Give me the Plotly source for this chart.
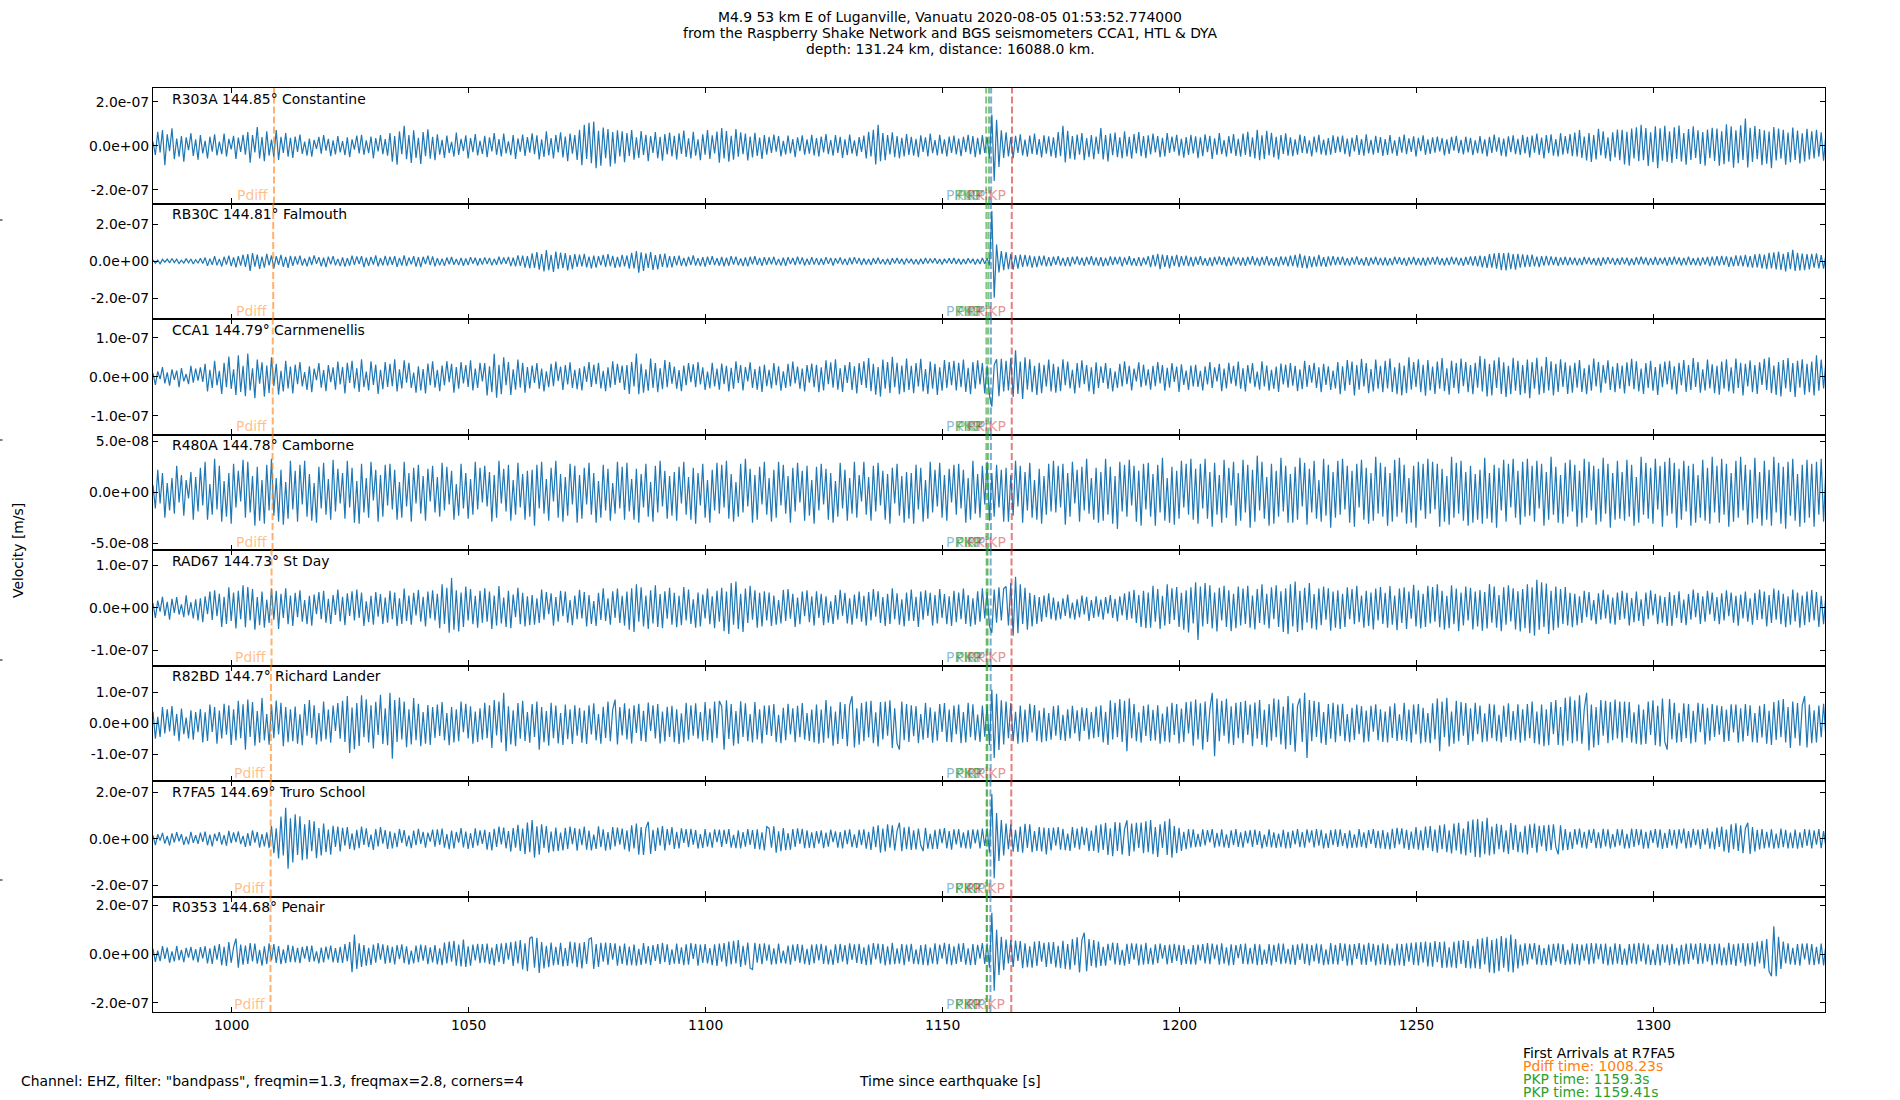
import plotly.graph_objects as go
from plotly.subplots import make_subplots

# decimated traces: one sample every 0.5 s, each row below is 10 s of data
t_start = 983.4
dt = 0.5
row_span = 10.0

stations = ['R303A', 'RB30C', 'CCA1', 'R480A', 'RAD67', 'R82BD', 'R7FA5', 'R0353']
distances = ['144.85', '144.81', '144.79', '144.78', '144.73', '144.7', '144.69', '144.68']
places = ['Constantine', 'Falmouth', 'Carnmenellis', 'Camborne', 'St Day', 'Richard Lander',
          'Truro School', 'Penair']

# arrival times [s] per station
pdiff_times = [1008.93, 1008.76, 1008.67, 1008.63, 1008.41, 1008.28, 1008.23, 1008.19]
pkp1_times = [1159.2, 1159.25, 1159.25, 1159.25, 1159.3, 1159.3, 1159.3, 1159.3]
pkp2_times = [1159.8, 1159.7, 1159.65, 1159.6, 1159.5, 1159.45, 1159.41, 1159.38]
pkikp_times = [1160.25, 1160.2, 1160.2, 1160.2, 1160.15, 1160.15, 1160.1, 1160.1]
pkikp2_times = [1164.65, 1164.6, 1164.6, 1164.6, 1164.55, 1164.55, 1164.5, 1164.5]

# y axis limits and tick labels per panel
y_limits = [2.62e-7, 3.11e-7, 1.485e-7, 5.68e-8, 1.36e-7, 1.86e-7, 2.48e-7, 2.37e-7]
ytick_step = [2e-7, 2e-7, 1e-7, 5e-8, 1e-7, 1e-7, 2e-7, 2e-7]
ytick_text = [
    ['-2.0e-07', '0.0e+00', '2.0e-07'],
    ['-2.0e-07', '0.0e+00', '2.0e-07'],
    ['-1.0e-07', '0.0e+00', '1.0e-07'],
    ['-5.0e-08', '0.0e+00', '5.0e-08'],
    ['-1.0e-07', '0.0e+00', '1.0e-07'],
    ['-1.0e-07', '0.0e+00', '1.0e-07'],
    ['-2.0e-07', '0.0e+00', '2.0e-07'],
    ['-2.0e-07', '0.0e+00', '2.0e-07'],
]

# velocity in nm/s
r303a = [
    [18,-42,63,-30,71,-88,52,-25,79,-61,33,-50,44,-72,38,-20,57,-46,29,-63],
    [48,-35,22,-58,41,-27,52,-44,19,-38,55,-49,31,-16,45,-60,37,-28,50,-41],
    [62,-77,48,-30,85,-58,39,-70,66,-45,28,-52,71,-64,40,-33,58,-49,36,-55],
    [42,-28,51,-37,19,-45,33,-50,27,-14,40,-36,48,-22,31,-47,25,-39,44,-30],
    [21,-43,38,-52,29,-18,46,-35,50,-41,24,-33,42,-57,35,-26,48,-38,30,-45],
    [58,-72,44,-86,65,-38,90,-61,49,-78,70,-55,36,-83,62,-47,75,-59,41,-66],
    [52,-40,27,-55,46,-33,18,-49,60,-42,31,-24,47,-58,35,-29,53,-44,22,-37],
    [45,-52,38,-26,57,-41,30,-48,55,-35,20,-43,49,-60,33,-27,51,-46,39,-31],
    [56,-38,47,-62,29,-51,66,-44,35,-58,49,-30,61,-53,42,-70,55,-36,48,-64],
    [72,-88,95,-60,104,-79,110,-102,68,-91,83,-57,76,-94,62,-81,70,-49,66,-75],
    [58,-46,71,-63,38,-55,67,-42,50,-70,44,-33,62,-57,41,-68,53,-39,60,-48],
    [45,-62,56,-37,69,-51,34,-58,63,-45,29,-66,52,-40,71,-60,47,-35,64,-77],
    [80,-58,67,-72,45,-63,76,-50,61,-38,55,-67,42,-53,59,-46,37,-60,48,-41],
    [40,-33,51,-27,44,-48,22,-39,46,-35,30,-52,38,-24,47,-41,29,-36,50,-44],
    [35,-49,42,-30,53,-38,26,-45,48,-32,40,-55,29,-43,51,-36,24,-47,39,-28],
    [46,-58,63,-49,72,-85,95,-70,58,-66,48,-39,61,-52,44,-57,36,-48,53,-42],
    [40,-45,31,-52,47,-28,38,-49,55,-34,26,-44,50,-37,29,-48,42,-33,46,-39],
    [32,-47,41,-29,50,-38,44,-52,36,-41,48,-33,39,-58,142,-160,118,-96,70,-55],
    [61,-48,39,-57,45,-33,52,-44,28,-50,46,-37,55,-41,30,-53,47,-36,43,-49],
    [38,-55,62,-47,90,-76,68,-59,44,-63,51,-40,58,-66,35,-52,48,-61,42,-37],
    [80,-62,49,-71,55,-43,60,-52,38,-57,66,-48,41,-59,53,-35,62,-47,44,-56],
    [47,-39,55,-30,44,-52,36,-48,58,-33,41,-27,50,-45,32,-54,39,-42,49,-35],
    [43,-56,38,-47,52,-29,45,-60,34,-41,57,-38,26,-50,44,-35,53,-46,31,-49],
    [55,-42,63,-51,38,-58,72,-65,47,-60,68,-44,59,-53,40,-62,49,-37,56,-45],
    [38,-47,29,-40,51,-33,44,-36,25,-48,42,-30,50,-39,28,-44,35,-41,47,-32],
    [41,-29,46,-38,33,-50,37,-26,48,-42,30,-45,52,-35,27,-40,45,-33,39,-46],
    [30,-42,48,-35,25,-46,40,-31,51,-38,34,-28,43,-49,36,-24,47,-41,29,-37],
    [38,-31,42,-26,35,-44,29,-37,40,-22,45,-33,27,-39,41,-30,36,-43,25,-34],
    [44,-36,29,-48,40,-33,51,-27,38,-45,32,-50,43,-29,47,-38,31,-42,49,-35],
    [40,-53,46,-31,55,-42,37,-58,48,-34,52,-45,30,-49,57,-40,44,-36,53,-47],
    [60,-48,71,-55,42,-67,58,-73,49,-62,77,-44,65,-58,38,-70,61,-53,74,-66],
    [72,-85,63,-90,78,-58,84,-70,95,-66,80,-92,61,-75,88,-102,79,-68,90,-73],
    [65,-78,84,-60,92,-71,58,-86,76,-64,88,-55,70,-83,62,-91,74,-57,81,-69],
    [78,-90,66,-84,97,-72,88,-100,70,-79,93,-65,123,-98,82,-74,89,-61,76,-88],
    [70,-82,64,-102,85,-67,78,-59,72,-86,60,-75,83,-64,69,-80,57,-71,77,-62],
    [66,-58,72,-50,61,-68,55],
]
rb30c = [
    [8,-11,6,-14,10,-5,12,-9,15,-7,11,-13,6,-10,14,-8,12,-15,9,-11],
    [16,-12,20,-25,14,-19,27,-22,13,-28,24,-18,30,-26,21,-33,28,-24,35,-30],
    [38,-52,44,-29,36,-41,25,-35,40,-22,31,-38,27,-19,34,-30,23,-36,29,-25],
    [26,-18,30,-23,15,-28,24,-20,32,-14,22,-27,19,-31,25,-17,28,-22,13,-26],
    [21,-29,17,-24,30,-20,26,-15,28,-32,19,-25,23,-18,31,-27,16,-22,29,-24],
    [25,-19,28,-30,18,-23,32,-26,20,-17,27,-29,22,-31,24,-15,30,-21,26,-28],
    [17,-22,14,-25,20,-16,23,-19,12,-21,18,-24,15,-20,22,-13,19,-23,16,-18],
    [21,-15,18,-22,13,-19,24,-17,20,-14,23,-26,19,-28,32,-25,30,-35,28,-38],
    [42,-36,50,-45,39,-55,60,-48,35,-58,52,-41,46,-37,44,-50,33,-42,38,-30],
    [36,-28,40,-33,25,-38,30,-35,27,-22,34,-31,38,-26,29,-36,24,-32,35,-27],
    [31,-40,45,-38,55,-61,48,-52,42,-36,50,-47,33,-44,39,-30,41,-35,28,-33],
    [27,-22,30,-25,18,-28,24,-20,31,-23,17,-26,22,-29,25,-19,28,-21,16,-24],
    [23,-27,19,-24,28,-18,25,-22,15,-26,21,-28,24,-17,27,-20,18,-25,22,-19],
    [20,-16,24,-21,13,-23,19,-25,22,-15,18,-20,24,-17,21,-23,14,-19,22,-18],
    [17,-21,15,-19,22,-14,18,-23,16,-12,20,-18,14,-21,19,-16,22,-13,17,-20],
    [15,-18,12,-20,16,-13,19,-15,11,-17,14,-19,16,-12,18,-14,13,-17,15,-11],
    [14,-16,11,-18,13,-15,17,-12,15,-10,16,-14,12,-17,14,-11,16,-13,18,-15],
    [13,-17,12,-15,16,-11,14,-18,12,-15,17,-13,16,-22,270,-196,90,-60,55,-48],
    [50,-42,38,-45,33,-40,36,-30,34,-28,31,-35,26,-32,29,-24,30,-27,22,-26],
    [25,-20,27,-23,18,-26,22,-28,24,-17,26,-21,19,-25,23,-18,27,-22,20,-24],
    [22,-27,18,-24,26,-20,23,-16,25,-28,21,-19,27,-23,17,-25,22,-26,20,-18],
    [28,-32,35,-27,40,-42,36,-30,33,-38,29,-25,34,-31,27,-24,30,-26,23,-28],
    [24,-19,27,-22,16,-25,21,-26,23,-18,26,-20,22,-27,19,-24,25,-17,21,-23],
    [20,-25,23,-18,27,-22,19,-26,24,-21,28,-23,17,-25,22,-27,26,-20,24,-28],
    [30,-26,35,-33,40,-36,31,-38,28,-32,25,-29,34,-27,22,-30,26,-24,28,-21],
    [23,-19,25,-22,17,-24,21,-18,26,-20,15,-23,22,-25,19,-16,24,-21,18,-22],
    [20,-23,17,-21,24,-15,22,-19,18,-25,21,-17,23,-20,16,-22,19,-24,21,-18],
    [22,-18,25,-20,16,-23,19,-21,24,-17,20,-22,18,-25,23,-19,26,-24,28,-27],
    [30,-33,28,-36,38,-34,42,-40,45,-48,44,-50,46,-42,38,-45,40,-35,37,-32],
    [34,-30,36,-28,25,-32,27,-24,29,-22,26,-20,23,-25,21,-19,24,-22,20,-18],
    [19,-22,17,-20,23,-15,21,-18,16,-22,19,-24,20,-17,22,-14,18,-21,16,-19],
    [21,-17,19,-23,15,-20,22,-18,24,-16,20,-22,17,-19,23,-21,18,-15,20,-24],
    [22,-19,24,-17,20,-23,18,-21,25,-20,16,-22,19,-24,21,-18,23,-26,25,-22],
    [27,-24,29,-21,26,-30,23,-28,32,-25,30,-27,34,-31,28,-35,37,-33,40,-38],
    [36,-42,45,-39,48,-44,52,-47,40,-55,50,-43,61,-52,46,-50,41,-48,38,-44],
    [40,-35,42,-38,33,-40,36],
]
cca1 = [
    [9,-21,14,-6,25,-17,11,-23,19,-8,16,-27,22,-12,7,-19,28,-15,21,-10],
    [24,-13,33,-38,18,-29,41,-22,15,-44,36,-27,52,-31,19,-47,55,-39,28,-50],
    [60,-35,22,-55,44,-18,37,-51,29,-42,50,-24,33,-46,15,-38,41,-30,26,-43],
    [31,-19,38,-25,12,-34,27,-40,21,-9,35,-28,17,-37,30,-14,24,-33,39,-20],
    [25,-43,36,-16,41,-30,22,-39,45,-27,13,-35,40,-21,31,-44,18,-32,38,-26],
    [33,-24,45,-38,19,-30,42,-15,36,-29,11,-41,27,-35,20,-43,34,-22,40,-28],
    [18,-37,29,-22,40,-14,33,-41,25,-31,38,-17,30,-26,42,-35,21,-29,36,-12],
    [35,-48,27,-40,59,-54,31,-45,50,-22,38,-47,19,-33,44,-28,36,-41,25,-30],
    [29,-16,35,-31,21,-38,14,-27,33,-24,39,-11,26,-34,30,-20,37,-29,18,-32],
    [22,-35,27,-13,38,-26,31,-19,36,-30,15,-37,24,-28,40,-21,33,-16,29,-34],
    [30,-44,38,-25,60,-45,33,-41,19,-36,47,-29,35,-40,22,-32,43,-27,38,-18],
    [26,-31,17,-37,29,-22,35,-14,32,-27,38,-20,24,-34,13,-30,36,-25,21,-33],
    [34,-19,28,-38,23,-31,40,-16,30,-35,25,-12,37,-29,20,-33,27,-39,31,-24],
    [18,-30,35,-22,27,-36,14,-29,33,-25,39,-17,26,-31,21,-38,30,-15,34,-27],
    [31,-40,24,-35,42,-19,37,-28,45,-33,22,-39,30,-16,38,-34,27,-43,35,-21],
    [40,-29,48,-37,33,-46,25,-51,44,-31,38,-42,51,-27,36,-45,29,-40,47,-34],
    [28,-42,35,-25,46,-38,20,-44,39,-31,33,-47,24,-36,43,-29,38,-22,41,-35],
    [36,-27,44,-39,23,-45,38,-31,42,-20,35,-43,29,-48,-77,30,45,-50,46,-38],
    [41,-35,48,-52,68,-44,39,-57,50,-33,45,-40,28,-47,36,-42,31,-25,44,-38],
    [33,-41,26,-37,45,-22,39,-30,18,-43,35,-28,42,-19,30,-38,24,-45,37,-29],
    [27,-16,35,-31,22,-38,14,-29,33,-25,40,-19,28,-35,21,-12,37,-27,31,-23],
    [19,-33,28,-24,38,-17,30,-36,23,-28,35,-13,26,-39,32,-21,16,-34,29,-25],
    [31,-26,15,-35,27,-20,38,-29,24,-12,33,-37,21,-30,36,-18,28,-24,39,-31],
    [22,-38,30,-17,35,-27,13,-33,40,-25,29,-36,18,-31,26,-39,34,-20,31,-28],
    [35,-23,28,-37,19,-32,41,-26,30,-15,36,-29,24,-40,33,-21,27,-34,16,-30],
    [38,-45,27,-36,43,-21,39,-48,30,-33,46,-25,35,-42,20,-38,44,-31,28,-40],
    [41,-30,47,-39,24,-45,36,-48,29,-42,50,-33,38,-26,45,-40,31,-49,43,-35],
    [26,-44,39,-31,48,-37,22,-46,41,-29,35,-43,47,-24,38,-40,30,-45,36,-28],
    [53,-38,46,-51,33,-48,42,-29,50,-44,37,-52,28,-45,49,-36,41,-47,30,-43],
    [44,-55,38,-31,49,-46,27,-42,51,-35,40,-48,33,-39,45,-26,37,-44,29,-41],
    [36,-28,43,-39,22,-45,31,-36,47,-25,38,-41,30,-17,42,-34,26,-40,35,-31],
    [29,-43,37,-24,46,-32,40,-38,21,-44,35,-29,41,-36,25,-47,33,-27,39,-20],
    [41,-33,27,-45,36,-22,43,-39,30,-34,48,-26,38,-41,19,-35,44,-30,32,-42],
    [28,-46,39,-31,45,-38,24,-43,47,-29,36,-48,33,-25,42,-40,30,-44,37,-21],
    [46,-34,50,-42,29,-47,38,-51,43,-30,48,-39,35,-52,41,-28,45,-46,33,-40],
    [39,-48,55,-36,44,-30,42],
]
r480a = [
    [7,-16,22,-11,19,-25,9,-18,14,-21,26,-10,17,-23,12,-6,20,-27,15,-19],
    [24,-13,30,-27,8,-22,33,-17,26,-29,11,-24,19,-31,28,-15,21,-9,32,-25],
    [30,-20,16,-33,25,-28,12,-31,27,-18,33,-23,14,-29,22,-32,10,-26,31,-17],
    [21,-29,27,-12,31,-24,18,-28,9,-30,25,-16,29,-22,13,-27,32,-19,23,-11],
    [19,-26,31,-15,24,-30,11,-31,28,-20,14,-25,30,-8,22,-29,17,-24,27,-13],
    [28,-17,22,-27,10,-25,30,-14,19,-29,24,-11,27,-21,16,-28,23,-9,26,-20],
    [15,-24,29,-18,25,-12,21,-27,8,-23,28,-16,19,-26,13,-22,30,-17,24,-10],
    [26,-14,20,-29,17,-25,31,-11,23,-19,27,-28,12,-22,29,-15,18,-27,21,-24],
    [22,-33,27,-16,30,-21,13,-28,24,-9,31,-25,18,-29,15,-23,28,-12,26,-30],
    [17,-26,24,-12,29,-22,19,-30,11,-25,27,-18,23,-28,9,-21,30,-16,25,-27],
    [29,-19,13,-27,23,-30,18,-15,28,-24,10,-29,26,-20,31,-14,21,-26,16,-23],
    [20,-28,25,-11,30,-22,15,-27,24,-31,19,-13,28,-25,12,-30,22,-18,29,-21],
    [27,-15,31,-26,18,-29,10,-24,28,-20,33,-14,23,-30,17,-27,25,-12,30,-22],
    [14,-29,22,-25,30,-13,27,-21,16,-30,24,-19,29,-10,21,-28,26,-23,12,-31],
    [25,-18,28,-12,23,-27,19,-30,11,-24,29,-16,22,-28,14,-21,30,-25,17,-9],
    [30,-22,15,-28,26,-19,29,-13,21,-27,18,-31,24,-11,28,-23,16,-30,20,-26],
    [19,-31,27,-17,24,-29,12,-26,30,-20,22,-14,29,-25,17,-28,23,-10,27,-22],
    [28,-16,22,-30,14,-27,31,-21,18,-25,26,-12,30,-28,19,-24,27,-15,22,-29],
    [24,-29,17,-23,31,-14,26,-30,20,-18,29,-25,12,-27,23,-31,16,-22,28,-19],
    [31,-20,26,-15,28,-32,19,-24,30,-11,22,-29,25,-18,33,-21,14,-27,24,-30],
    [20,-28,33,-22,25,-31,16,-36,30,-19,27,-24,32,-13,26,-29,21,-33,28,-17],
    [29,-24,18,-33,27,-20,34,-28,14,-30,25,-32,21,-26,31,-15,28,-22,33,-27],
    [23,-31,28,-16,33,-26,20,-34,29,-22,17,-30,32,-25,24,-13,30,-33,19,-28],
    [32,-20,27,-35,22,-29,36,-18,30,-26,15,-33,28,-31,21,-24,34,-19,26,-30],
    [18,-30,25,-27,34,-14,29,-32,23,-20,31,-26,12,-29,33,-23,27,-35,20,-25],
    [31,-22,33,-17,26,-30,21,-34,28,-15,32,-27,24,-31,19,-28,35,-21,29,-24],
    [25,-33,19,-29,32,-24,34,-20,27,-31,14,-30,26,-35,30,-18,28,-26,33,-21],
    [30,-17,28,-34,23,-29,16,-32,35,-25,29,-21,31,-28,20,-33,26,-30,18,-27],
    [22,-31,34,-26,19,-30,27,-35,24,-18,32,-29,28,-15,33,-25,21,-32,30,-24],
    [33,-23,26,-29,31,-16,28,-33,20,-27,35,-22,25,-30,17,-31,29,-24,32,-19],
    [27,-34,21,-30,33,-25,30,-18,26,-32,23,-29,34,-21,28,-35,19,-27,31,-26],
    [20,-28,32,-24,27,-33,15,-30,35,-22,29,-26,24,-31,33,-17,26,-34,30,-23],
    [34,-21,29,-35,23,-27,31,-19,26,-33,28,-30,17,-25,32,-28,24,-31,35,-20],
    [26,-30,33,-22,28,-34,19,-29,31,-25,35,-18,27,-32,22,-30,34,-26,20,-33],
    [31,-27,22,-33,35,-20,29,-31,25,-36,30,-23,33,-28,18,-34,27,-30,32,-25],
    [28,-34,30,-22,33,-29,25],
]
rad67 = [
    [11,-24,17,-9,26,-19,14,-28,21,-12,25,-16,8,-22,29,-18,13,-25,20,-30],
    [22,-34,27,-15,38,-29,41,-20,33,-45,26,-38,48,-31,36,-49,40,-27,53,-46],
    [49,-30,44,-52,25,-41,38,-47,19,-36,45,-28,40,-50,33,-24,46,-39,29,-43],
    [35,-22,41,-33,18,-39,28,-42,31,-15,37,-27,40,-35,21,-38,30,-17,43,-32],
    [26,-41,34,-19,39,-30,43,-24,36,-43,15,-34,28,-40,37,-21,32,-38,24,-35],
    [40,-27,36,-43,22,-38,45,-31,29,-40,35,-18,42,-33,26,-44,38,-25,41,-30],
    [33,-48,55,-38,47,-59,70,-52,41,-56,36,-45,50,-30,44,-39,28,-47,40,-35],
    [46,-33,38,-50,29,-42,51,-37,24,-45,40,-48,31,-22,47,-39,35,-44,27,-41],
    [30,-40,22,-36,43,-28,37,-15,34,-42,25,-33,40,-20,38,-35,18,-41,29,-27],
    [42,-25,37,-44,30,-38,16,-43,35,-29,46,-31,22,-40,39,-24,45,-36,28,-42],
    [38,-52,46,-57,55,-33,48,-44,29,-50,41,-37,53,-45,32,-48,39,-26,47,-40],
    [35,-46,28,-41,49,-30,43,-38,20,-47,36,-44,31,-25,45,-39,27,-48,40,-33],
    [47,-55,38,-62,58,-40,62,-50,33,-57,45,-36,52,-28,41,-47,35,-44,39,-30],
    [36,-43,29,-40,18,-37,42,-31,44,-26,33,-45,24,-39,38,-20,41,-34,27,-42],
    [39,-24,33,-41,27,-35,15,-38,30,-28,42,-19,35,-37,22,-40,31,-26,38,-33],
    [28,-42,37,-30,44,-21,39,-36,25,-43,33,-38,46,-27,34,-40,20,-44,36,-31],
    [43,-31,26,-45,38,-28,41,-19,35,-42,30,-37,44,-24,32,-39,27,-43,40,-34],
    [36,-27,45,-38,30,-44,22,-40,39,-33,46,-25,37,-43,-59,43,-35,48,-30,45],
    [50,-42,58,-66,73,-60,55,-38,47,-52,35,-44,30,-38,25,-33,29,-22,34,-27],
    [24,-30,15,-27,22,-19,31,-25,12,-28,20,-23,29,-16,26,-31,18,-24,27,-21],
    [19,-28,25,-14,30,-24,21,-32,27,-18,34,-29,38,-25,42,-36,30,-45,40,-48],
    [36,-47,52,-33,44,-50,28,-42,55,-38,46,-29,49,-45,35,-52,41,-58,48,-37],
    [60,-76,50,-44,58,-38,53,-49,36,-56,47,-30,52,-45,41,-55,33,-48,50,-42],
    [45,-38,52,-47,29,-51,44,-36,55,-40,33,-49,48,-27,53,-45,39,-57,46,-62],
    [55,-44,62,-57,40,-53,47,-35,58,-49,32,-52,45,-41,50,-28,46,-54,38,-47],
    [41,-50,33,-45,48,-27,44,-39,52,-34,29,-47,40,-43,36,-51,45,-30,49,-38],
    [35,-47,51,-40,29,-53,45,-36,48,-50,38,-26,54,-44,41,-49,33,-45,52,-37],
    [49,-33,55,-46,40,-52,28,-48,53,-39,45,-55,36,-42,50,-30,47,-51,38,-44],
    [42,-54,37,-49,56,-35,50,-47,30,-55,48,-40,53,-32,46,-51,39,-56,44,-48],
    [55,-60,48,-66,66,-52,60,-45,57,-62,40,-53,50,-47,44,-38,49,-42,35,-46],
    [33,-41,27,-36,40,-22,37,-30,18,-39,34,-28,42,-25,31,-37,24,-40,36,-29],
    [40,-26,35,-42,23,-34,38,-31,20,-43,36,-27,41,-18,33,-39,29,-35,25,-43],
    [37,-43,30,-24,39,-36,19,-41,32,-28,43,-22,35,-38,27,-33,40,-16,36,-31],
    [25,-39,34,-30,41,-20,36,-35,28,-42,31,-25,38,-33,22,-40,35,-29,43,-27],
    [38,-44,30,-36,45,-28,41,-39,33,-46,27,-40,43,-32,36,-47,29,-41,38,-34],
    [42,-30,37,-45,28,-39,33],
]
r82bd = [
    [38,-50,21,-44,52,-33,45,-26,55,-40,30,-58,47,-35,18,-49,42,-53,36,-29],
    [46,-62,35,-57,60,-28,52,-66,41,-49,63,-37,58,-70,45,-55,72,-48,61,-85],
    [76,-44,68,-72,39,-63,81,-55,30,-69,60,-48,73,-36,66,-74,52,-61,45,-58],
    [54,-66,29,-71,62,-40,75,-47,58,-68,33,-59,70,-52,44,-63,57,-25,65,-50],
    [72,-60,88,-96,51,-84,65,-73,90,-45,77,-62,58,-81,69,-38,92,-67,48,-71],
    [98,-114,75,-60,83,-52,70,-77,45,-68,81,-55,63,-74,36,-66,59,-70,52,-47],
    [60,-41,68,-55,33,-71,52,-62,45,-58,70,-29,63,-49,55,-66,38,-60,48,-53],
    [66,-48,58,-80,75,-39,70,-62,98,-90,55,-68,42,-74,65,-50,72,-57,36,-63],
    [62,-44,70,-85,52,-61,39,-72,66,-48,57,-65,33,-70,60,-51,45,-67,58,-40],
    [50,-63,41,-67,58,-36,64,-55,30,-66,53,-47,70,-58,44,76,-68,52,-39,64],
    [-52,47,-65,58,-31,63,-57,40,-60,67,-25,58,-49,62,-65,38,-59,53,-44,56],
    [-61,45,-67,32,-62,66,-53,58,-40,64,-50,36,-59,68,-55,47,-63,70,-48,72],
    [55,-85,74,-51,62,-72,39,-66,71,-44,64,-58,30,-62,68,-52,45,-65,57,-38],
    [58,-41,62,-60,27,-64,50,-55,63,-36,48,-61,56,-45,65,-53,33,-57,44,-62],
    [60,-66,44,-63,75,-48,55,-72,38,-67,68,-51,62,-74,58,87,-78,48,-69,65],
    [-58,70,-46,72,-64,35,-75,68,-52,70,-40,74,-80,48,-65,-85,70,-55,62,-60],
    [58,-42,55,-64,30,-53,66,-47,51,-63,38,-56,62,-28,65,-60,44,-61,57,-35],
    [60,-64,36,-62,66,-45,61,-55,28,-60,57,-43,59,-70,108,-112,95,-86,74,-68],
    [70,-48,65,-58,37,-66,57,-62,44,-60,63,-30,59,-57,41,-61,50,-58,33,-53],
    [55,-40,58,-54,27,-57,45,-49,56,-33,42,-58,51,-25,49,-52,36,-48,54,-44],
    [58,-62,37,-70,74,-52,66,-45,78,-60,72,-90,80,-48,62,-58,35,-63,56,-41],
    [60,-57,43,-55,58,-66,31,-59,54,-62,66,-38,62,-65,47,-60,68,-33,70,-72],
    [76,-52,64,-85,70,-60,45,98,-106,80,-58,72,-40,79,-65,55,-70,66,-48,68],
    [-64,72,-38,60,-74,67,-50,75,-70,43,-77,62,-56,80,-45,76,-68,54,-84,88],
    [-70,64,-92,55,80,-60,98,-112,75,-58,72,-44,68,-64,36,-70,62,-50,66,-61],
    [60,-42,63,-58,30,-61,50,-54,60,-35,55,-62,41,-59,56,-27,61,-55,45,-60],
    [38,-62,55,-47,64,-57,29,-54,66,-58,44,-63,60,-36,62,-65,50,-61,33,-64],
    [64,-52,80,-90,70,-45,82,-75,38,-66,72,-58,68,-40,65,-70,48,-58,66,-35],
    [57,-61,32,-59,63,-48,60,-58,27,-62,56,-44,64,-57,39,-53,61,-63,45,-56],
    [62,-48,70,-64,38,-68,60,-74,45,-71,68,-35,75,-70,52,-72,82,-56,86,-64],
    [74,-58,90,-66,45,98,-88,60,-78,52,-70,75,-40,72,-64,68,-55,76,-49,70],
    [-62,70,-47,68,-62,35,-66,60,-69,44,-67,70,-38,74,-71,56,-75,80,-60,-85],
    [78,-52,66,-63,34,-60,64,-48,62,-65,40,-61,66,-29,63,-68,50,-56,62,-44],
    [58,-37,55,-60,44,-57,61,-30,60,-63,48,-59,62,-41,58,-61,33,-63,56,-46],
    [62,-66,40,-70,68,-54,74,-45,78,-62,52,-80,70,-48,65,-72,58,87,-78,60],
    [-64,42,-62,57,-45,63,-50],
]
r7fa5 = [
    [14,-27,19,-8,25,-21,12,-29,23,-16,28,-11,20,-26,9,-24,30,-18,15,-22],
    [26,-13,31,-28,18,-33,22,-10,29,-25,16,-30,34,-19,27,-14,32,-23,12,-35],
    [24,-31,36,-17,29,-38,20,-33,27,-40,55,-62,45,-85,95,-72,133,-129,88,-102],
    [105,-70,96,-92,62,-88,80,-54,75,-84,46,-72,65,-58,40,-68,56,-35,52,-55],
    [47,-30,50,-44,23,-49,38,-40,52,-26,45,-36,18,-48,42,-33,50,-21,37,-44],
    [32,-41,25,-36,42,-18,37,-33,14,-40,35,-28,43,-22,30,-38,26,-12,39,-34],
    [40,-26,44,-38,20,-45,35,-41,29,-17,46,-37,31,-44,24,-39,45,-30,36,-22],
    [38,-47,29,-50,43,-35,52,-24,48,-41,33,-55,46,-38,60,-52,44,-66,70,-58],
    [80,-81,54,-68,62,-40,55,-60,31,-54,48,-52,27,-50,47,-44,52,-23,46,-51],
    [43,-28,52,-47,35,-50,18,-44,53,-36,40,-51,29,-47,50,-33,48,-25,44,-46],
    [36,-55,58,-42,65,-68,50,-70,45,73,-65,38,-52,48,-30,54,-50,42,-27,50],
    [-44,30,-42,45,-18,41,-36,43,-25,37,-42,20,-39,41,-34,28,-38,40,-15,39],
    [-35,38,-22,41,-38,17,-40,36,-42,29,-34,41,-26,37,-44,40,-46,28,-50,52],
    [45,-38,54,-60,32,-53,46,-49,24,-47,42,-35,45,-22,43,-41,36,-39,28,-40],
    [33,-21,36,-40,26,-34,39,-15,32,-38,29,-41,37,-23,40,-36,19,-39,38,-28],
    [40,-43,30,-48,52,-36,58,-60,44,-55,62,-38,58,-50,34,69,-53,49,-45,52],
    [-48,36,-46,44,-28,-53,47,-43,21,-45,38,-44,42,-19,46,-41,33,-47,40,-24],
    [42,-38,27,-41,37,-43,40,-20,39,-42,44,-31,45,-60,192,-170,110,-95,80,-72],
    [65,-45,62,-55,38,-57,52,-60,64,-40,62,-58,33,-52,50,-54,48,-67,46,-50],
    [48,-30,50,-47,43,-49,22,-52,50,-38,44,-46,52,-28,47,-53,35,-52,58,-60],
    [62,-48,68,-70,45,-75,72,-52,70,-68,42,79,-74,65,-55,68,-40,70,-62,75],
    [-58,80,-66,50,-78,62,-40,75,-70,86,-81,55,-62,47,-52,30,-45,42,-38,40],
    [-36,21,-34,40,-29,37,-16,41,-38,25,-33,40,-37,19,-39,36,-28,41,-35,27],
    [-38,34,-20,37,-35,39,-26,33,-41,18,-34,40,-37,28,-39,22,-36,38,-42,30],
    [-40,35,-24,41,-36,29,-38,40,-17,36,-37,42,-30,38,-41,23,-39,37,-28,40],
    [-35,40,-31,24,-41,36,-39,19,-38,42,-35,27,-40,37,-22,41,-39,34,-42,37],
    [-44,28,-46,43,-40,47,-24,45,-42,38,-48,31,-43,50,-47,36,-50,52,-40,55],
    [-53,40,-60,58,-45,62,-58,36,-63,65,-50,68,-66,44,-72,75,-60,82,-78,85],
    [-80,75,-66,90,-72,52,-66,64,-45,60,-58,36,-65,67,-48,60,-58,30,-60,56],
    [-67,62,-40,65,-60,56,-33,58,-54,60,-48,62,-35,-67,58,-50,42,-48,30,-44],
    [42,-25,44,-38,30,-43,39,-18,42,-40,27,-41,43,-33,40,-42,20,-36,41,-29],
    [40,-42,21,-41,44,-35,42,-27,40,-43,30,-41,36,-18,42,-38,40,-44,25,-39],
    [42,-30,38,-43,41,-20,44,-42,33,-38,43,-28,39,-44,42,-25,45,-43,31,-46],
    [48,-35,52,-55,40,-60,62,-45,66,-52,58,-62,44,69,-65,50,-55,38,-46,42],
    [-42,30,-38,41,-43,22,-41,44,-36,38,-42,26,-40,39,-43,28,-38,42,-31,39],
    [-41,36,-25,42,-40,33,-38],
]
r0353 = [
    [22,-31,15,-28,33,-19,27,-35,12,-29,34,-24,18,-32,26,-14,30,-25,21,-33],
    [29,-17,33,-38,24,-40,36,-22,42,-45,30,-48,50,-35,28,64,-55,40,-43,36],
    [-40,46,-29,44,-39,18,-47,33,-40,45,-25,42,-36,34,-41,20,-37,39,-32,35],
    [-33,26,-37,30,-18,34,-31,36,-29,12,-38,27,-34,31,-21,36,-33,25,-35,30],
    [-36,42,-28,50,-74,81,-60,45,-52,38,-47,26,-44,40,-35,46,-22,41,-39,37],
    [-36,30,-42,38,-20,41,-37,33,-43,15,-38,36,-32,40,-26,37,-41,28,-34,38],
    [-42,24,-45,48,-38,52,-30,55,-47,40,-50,60,-52,33,-47,40,-25,43,-37,42],
    [-35,44,-41,27,-46,42,-33,45,-40,47,-22,50,-48,53,-38,58,-62,45,-70,65],
    [72,-55,68,-77,50,-58,35,-53,48,-46,30,-44,47,-50,25,-48,52,-38,49,-53],
    [45,-58,50,-40,62,67,-60,42,-52,47,-30,48,-44,46,-22,45,-47,35,-40,44],
    [-46,31,-45,40,-47,22,-44,46,-39,34,-45,38,-27,42,-40,47,-33,41,-44,20],
    [-39,44,-40,28,-45,41,-43,46,-19,43,-47,40,-36,42,-38,25,-45,41,-48,44],
    [-30,46,-50,52,-42,55,-38,58,-52,35,-45,48,-57,-63,47,-35,43,-41,45,-26],
    [40,-43,24,-41,44,-37,15,-39,36,-43,40,-28,42,-36,39,-41,22,-44,40,-38],
    [41,-25,43,-40,36,-42,19,-44,41,-37,43,-30,38,-42,45,-23,41,-36,43,-40],
    [28,-45,40,-43,46,-21,44,-38,42,-46,33,-43,47,-41,24,-39,42,-45,40,-30],
    [43,-40,20,-42,38,-44,41,-46,27,-39,45,-42,40,-18,47,-41,43,-45,32,-40],
    [44,-31,46,-43,24,-45,42,-44,39,-18,46,-40,44,-55,170,-150,100,-85,72,-65],
    [60,-38,58,-52,56,-27,54,-57,45,-53,33,-55,52,-48,54,-30,47,-52,49,-40],
    [50,-54,35,-57,55,-60,42,-63,62,-45,70,-75,58,88,-70,62,-48,58,-55,52],
    [-48,30,-47,43,-25,48,-42,46,-44,18,-47,43,-40,45,-22,44,-46,40,-43,47],
    [-41,26,-43,41,-37,44,-18,38,-42,40,-36,43,-27,39,-44,37,-40,21,-42,38],
    [-43,40,-25,42,-38,46,-41,44,-20,40,-43,45,-39,28,-46,41,-44,38,-16,42],
    [-40,44,-42,26,-39,43,-45,41,-44,19,-40,42,-46,39,-31,45,-41,44,-38,22],
    [-42,39,-44,41,-23,45,-40,43,-46,38,-29,44,-39,41,-45,20,-43,46,-41,39],
    [-43,46,-27,44,-47,41,-45,42,-19,46,-43,40,-44,47,-31,43,-46,39,-42,45],
    [-44,41,-46,23,-47,44,-45,42,-48,45,-30,47,-44,49,-46,50,-35,52,-50,48],
    [-51,54,-33,50,-56,52,-55,28,-54,51,-57,55,-40,58,-56,54,-58,35,-57,62],
    [-60,65,-42,72,-75,58,-78,64,-70,75,-55,68,-72,81,-75,62,-58,40,-47,45],
    [-42,44,-21,46,-43,39,-45,25,-44,40,-46,43,-30,45,-39,42,-44,18,-43,45],
    [-41,42,-45,40,-26,44,-42,46,-39,45,-20,43,-40,44,-46,31,-43,45,-39,42],
    [-44,23,-45,42,-38,44,-41,46,-29,45,-42,40,-44,19,-45,43,-46,41,-35,40],
    [-45,43,-41,26,-46,39,-42,44,-40,45,-22,43,-41,46,-39,44,-30,42,-45,43],
    [-41,44,-46,28,-45,47,-43,41,-48,44,-35,46,-49,45,-43,47,-50,52,-38,55],
    [-58,62,-70,-90,115,-90,72,-60,52,-38,45,-42,26,-44,42,-47,44,-21,45,-43],
    [42,-45,30,-41,44,-46,42],
]
traces = [r303a, rb30c, cca1, r480a, rad67, r82bd, r7fa5, r0353]

W, H = 1900, 1100
L, R, T, B = 153, 1825, 88, 1012
FONT = dict(family='DejaVu Sans', size=13.9, color='black')


def px_x(x):
    return (x - L) / (R - L)


def px_y(y):
    return (B - y) / (B - T)


def build(rows):
    # each row starts row_span seconds after the previous one
    t, v = [], []
    for k, row in enumerate(rows):
        for j, val in enumerate(row):
            t.append(t_start + row_span * k + dt * j)
            v.append(val * 1e-9)
    return t, v


fig = make_subplots(rows=8, cols=1, shared_xaxes=True, vertical_spacing=0)

phase_colors = {
    'Pdiff': (255, 127, 14),
    'PKP': (44, 160, 44),
    'PKIKP': (31, 119, 180),
    'PKiKP': (214, 39, 40),
}

for i, rows in enumerate(traces):
    t, vals = build(rows)
    r = i + 1
    fig.add_trace(go.Scatter(x=t, y=vals, mode='lines', line=dict(color='#1f77b4', width=1.2),
                             showlegend=False, hoverinfo='skip'), row=r, col=1)

    step = ytick_step[i]
    fig.update_yaxes(range=[-y_limits[i], y_limits[i]], tickvals=[-step, 0, step],
                     ticktext=ytick_text[i], row=r, col=1)

    xr = 'x' if r == 1 else f'x{r}'
    yr = 'y' if r == 1 else f'y{r}'

    arrivals = [('Pdiff', pdiff_times[i]), ('PKIKP', pkikp_times[i]), ('PKP', pkp1_times[i]),
                ('PKP', pkp2_times[i]), ('PKiKP', pkikp2_times[i])]
    for name, at in arrivals:
        c = phase_colors[name]
        fig.add_vline(x=at, line=dict(color=f'rgba({c[0]},{c[1]},{c[2]},0.6)', width=2,
                                      dash='7px,3px'), row=r, col=1)
        fig.add_annotation(x=at - 0.8, y=0.07, xref=xr, yref=f'{yr} domain', text=name,
                           showarrow=False, xanchor='right', yanchor='middle',
                           font=dict(family='DejaVu Sans', size=13.9,
                                     color=f'rgba({c[0]},{c[1]},{c[2]},0.5)'))

    fig.add_annotation(x=0.01, y=0.905, xref=f'{xr} domain', yref=f'{yr} domain',
                       text=f'{stations[i]} {distances[i]}° {places[i]}', showarrow=False,
                       xanchor='left', yanchor='middle', font=FONT)

fig.update_xaxes(range=[983.4, 1336.2], tick0=1000, dtick=50, ticks='inside', ticklen=5,
                 tickcolor='black', showline=True, linecolor='black', linewidth=1.3,
                 mirror='ticks', showgrid=False, zeroline=False, tickfont=FONT)
fig.update_yaxes(ticks='inside', ticklen=5, tickcolor='black', showline=True,
                 linecolor='black', linewidth=1.3, mirror='ticks', showgrid=False,
                 zeroline=False, tickfont=FONT)

# title lines
title_lines = ['M4.9 53 km E of Luganville, Vanuatu 2020-08-05 01:53:52.774000',
               'from the Raspberry Shake Network and BGS seismometers CCA1, HTL & DYA',
               'depth: 131.24 km, distance: 16088.0 km.']
for line, ypx in zip(title_lines, [17, 33, 49]):
    fig.add_annotation(x=px_x(950), y=px_y(ypx), xref='paper', yref='paper', text=line,
                       showarrow=False, xanchor='center', yanchor='middle', font=FONT)

fig.add_annotation(x=px_x(18), y=px_y(551), xref='paper', yref='paper', text='Velocity [m/s]',
                   textangle=-90, showarrow=False, xanchor='center', yanchor='middle', font=FONT)
fig.add_annotation(x=px_x(950), y=px_y(1081), xref='paper', yref='paper',
                   text='Time since earthquake [s]', showarrow=False, xanchor='center',
                   yanchor='middle', font=FONT)
fig.add_annotation(x=px_x(19), y=px_y(1081), xref='paper', yref='paper',
                   text='Channel: EHZ, filter: "bandpass", freqmin=1.3, freqmax=2.8, corners=4',
                   showarrow=False, xanchor='left', yanchor='middle', font=FONT)

# first arrivals summary
summary = [('First Arrivals at R7FA5', 'black'), ('Pdiff time: 1008.23s', '#ff7f0e'),
           ('PKP time: 1159.3s', '#2ca02c'), ('PKP time: 1159.41s', '#2ca02c')]
for (line, col), ypx in zip(summary, [1053, 1066, 1079, 1092]):
    fig.add_annotation(x=px_x(1521), y=px_y(ypx), xref='paper', yref='paper', text=line,
                       showarrow=False, xanchor='left', yanchor='middle',
                       font=dict(family='DejaVu Sans', size=13.9, color=col))

# stray ticks of the outer label axis at the left edge
for ypx in [220, 440, 660, 880]:
    fig.add_shape(type='line', xref='paper', yref='paper', x0=px_x(0), x1=px_x(2.5),
                  y0=px_y(ypx), y1=px_y(ypx), line=dict(color='black', width=1))

fig.update_layout(
    width=W, height=H,
    margin=dict(l=L, r=W - R, t=T, b=H - B),
    paper_bgcolor='white', plot_bgcolor='white',
    showlegend=False,
    font=FONT,
)

# the page's default body margin would push the 1900x1100 figure off the window
fig.write_html('out.html', config={'displayModeBar': False},
               post_script="document.body.style.margin='0';document.body.style.overflow='hidden';")
